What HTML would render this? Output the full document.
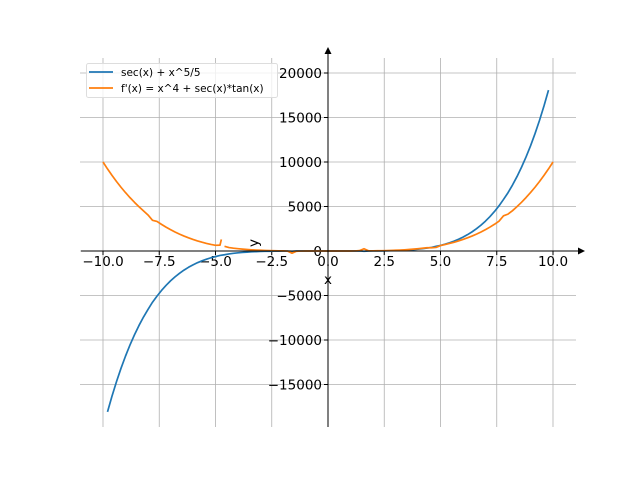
<!DOCTYPE html>
<html><head><meta charset="utf-8"><style>
html,body{margin:0;padding:0;background:#fff;}
svg text{font-family:"DejaVu Sans","Liberation Sans",sans-serif;}
</style></head><body>
<svg id="s" width="640" height="480" xmlns="http://www.w3.org/2000/svg">
<rect width="640" height="480" fill="#fff"/>
<g id="grid" stroke="#b0b0b0" stroke-width="0.8"></g>
<g id="ticks" font-size="13.5" fill="#000"></g>
<g id="curves" fill="none" stroke-width="1.7" stroke-linejoin="round"></g>
<line x1="81" y1="251" x2="580" y2="251" stroke="#000" stroke-width="1"/>
<polygon points="585,251 578,247.5 578,254.5" fill="#000"/>
<line x1="328" y1="427" x2="328" y2="53" stroke="#000" stroke-width="1"/>
<polygon points="328,47 324.5,54 331.5,54" fill="#000"/>
<text x="328" y="284" font-size="13.5" text-anchor="middle">x</text>
<text x="258" y="243" font-size="13.5" text-anchor="middle" transform="rotate(-90 258 243)">y</text>
<rect x="86.5" y="63.5" width="191" height="34" rx="2" fill="#fff" fill-opacity="0.8" stroke="#ddd"/>
<line x1="89" y1="72" x2="113" y2="72" stroke="#1f77b4" stroke-width="1.7"/>
<line x1="89" y1="88" x2="113" y2="88" stroke="#ff7f0e" stroke-width="1.7"/>
<text x="121" y="76" font-size="10.5">sec(x) + x^5/5</text>
<text x="121" y="92" font-size="10.5">f'(x) = x^4 + sec(x)*tan(x)</text>
</svg>
<script>
var NS="http://www.w3.org/2000/svg";
function X(v){return 328+v*22.5;}
function Y(v){return 251-v*0.0089;}
var g=document.getElementById('grid'),t=document.getElementById('ticks'),c=document.getElementById('curves');
function el(p,n,a,txt){var e=document.createElementNS(NS,n);for(var k in a)e.setAttribute(k,a[k]);if(txt!=null)e.textContent=txt;p.appendChild(e);return e;}
for(var v=-10;v<=10;v+=2.5){var x=X(v);el(g,'line',{x1:x,y1:58,x2:x,y2:427});
 el(t,'line',{x1:x,y1:251,x2:x,y2:255,stroke:'#000'});
 el(t,'text',{x:x,y:266,'text-anchor':'middle'},(v<0?'\u2212':'')+Math.abs(v).toFixed(1));}
for(var v=-15000;v<=20000;v+=5000){var y=Y(v);el(g,'line',{x1:80,y1:y,x2:576,y2:y});
 el(t,'line',{x1:324,y1:y,x2:328,y2:y,stroke:'#000'});
 el(t,'text',{x:322,y:y+5,'text-anchor':'end'},(v<0?'\u2212':'')+Math.abs(v));}
function clamp(v,a){return Math.max(-a,Math.min(a,v));}
// blue
var d='';
for(var i=0;i<=98;i++){var x=-9.8+19.6*i/98,y=clamp(1/Math.cos(x),200)+Math.pow(x,5)/5;d+=(i?'L':'M')+X(x).toFixed(2)+','+Y(y).toFixed(2);}
el(c,'path',{d:d,stroke:'#1f77b4'});
// orange
function fo(x){var st=Math.sin(x)/Math.pow(Math.cos(x),2);return Math.pow(x,4)+clamp(st,250);}
var d2='',xs=[];
for(var i=0;i<=100;i++){xs.push(-10+0.2*i);}
var pen=false;
for(var i=0;i<xs.length;i++){var x=xs[i];
 if(x>-4.79&&x<-4.61){continue;}
 if(Math.abs(x+4.8)<1e-6){d2+='L'+X(-4.8).toFixed(2)+','+Y(fo(-4.8)).toFixed(2)+'L'+X(-4.74).toFixed(2)+','+Y(1300).toFixed(2);pen=false;continue;}
 d2+=(pen?'L':'M')+X(x).toFixed(2)+','+Y(fo(x)).toFixed(2);pen=true;}
el(c,'path',{d:d2,stroke:'#ff7f0e'});
</script>
</body></html>
